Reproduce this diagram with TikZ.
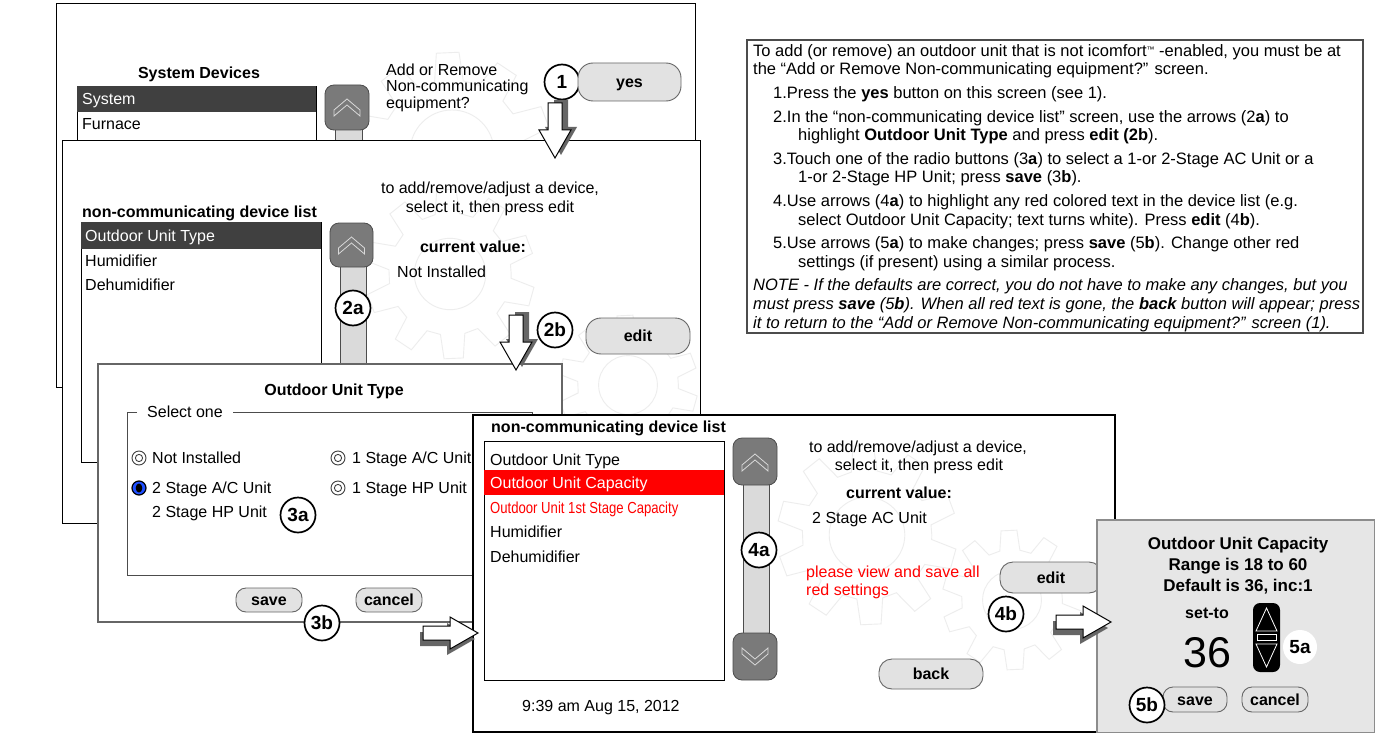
\documentclass[tikz,border=0pt]{standalone}
\usepackage{fontspec}
\setmainfont{Liberation Sans}
\usepackage{tikz}
\tikzset{>=latex}
\usetikzlibrary{calc}
\definecolor{rowdark}{HTML}{404040}
\definecolor{scrollgray}{HTML}{7A7A7A}
\definecolor{trackgray}{HTML}{DADADA}
\definecolor{btngray}{HTML}{E2E2E2}
\definecolor{alertred}{HTML}{FF0000}
\definecolor{popupgray}{HTML}{E6E6E6}
\definecolor{radioblue}{HTML}{1F4FFF}

\tikzset{
  screen/.style={draw=black, fill=white, line width=0.9pt},
  gearline/.style={draw=black!7, line width=0.9pt},
  txt/.style={inner sep=0pt, text height=11.5pt, text depth=0pt, font=\fontsize{16}{16}\selectfont},
  entry/.style={txt, anchor=west},
  heading/.style={txt, font=\bfseries\fontsize{16}{16}\selectfont},
  btn/.style={draw=black!60, fill=btngray, line width=0.9pt, rounded corners=13pt, inner sep=0pt,
    text height=11.5pt, text depth=0pt, font=\bfseries\fontsize{16}{16}\selectfont},
  tag/.style={circle, draw=black, line width=1.7pt, fill=white, minimum size=35pt, inner sep=0pt,
    font=\bfseries\fontsize{19}{19}\selectfont},
  scrollbtn/.style={draw=black!70, fill=scrollgray, rounded corners=9pt, line width=0.8pt},
  track/.style={draw=black!70, fill=trackgray, line width=0.8pt},
  chevron/.pic={\draw[white!70!gray, line width=0.8pt] (-13,3) -- (0,-8) -- (13,3) -- (13,9) -- (0,-2) -- (-13,9) -- cycle;},
  gear/.pic={
    \draw[gearline] (0:0.72) \foreach \a in {0,36,...,324} { -- (\a+4:0.72) -- (\a+9:1) -- (\a+22:1) -- (\a+27:0.72) } -- cycle;
    \draw[gearline] (0,0) circle (0.42);
  },
}

\newcommand{\radiobtn}[2]{\draw[black!75, line width=0.9pt] (#1,#2) circle (7) (#1,#2) circle (3.6);}
\newcommand{\radioon}[2]{\draw[black, line width=1.2pt, fill=radioblue] (#1,#2) circle (7); \fill[black] (#1,#2) ellipse (3.3 and 4.5);}
\newcommand{\bigarrow}[3]{%
  \begin{scope}[shift={(#1)}, rotate=#2]
    \fill[black!60, shift={(#3,-3)}] (-7,0) -- (7,0) -- (7,27) -- (16,27) -- (0,55) -- (-16,27) -- (-7,27) -- cycle;
    \draw[fill=white, line width=1pt] (-7,0) -- (7,0) -- (7,27) -- (16,27) -- (0,55) -- (-16,27) -- (-7,27) -- cycle;
  \end{scope}}

\begin{document}
\begin{tikzpicture}[x=1pt, y=-1pt]
  \useasboundingbox (0,0) rectangle (1375,733);

  \draw[screen] (56,3) rectangle (695,387);
  \begin{scope}
    \clip (56,3) rectangle (695,387);
    \pic[scale=100] at (452,152) {gear};
  \end{scope}
  \node[heading] (sysdev) at (199,73) {System Devices};
  \draw[line width=0.9pt] (77,86) rectangle (316,200);
  \fill[rowdark] (77,86) rectangle (316,112);
  \node[entry, text=white] (sysrow) at (82,99) {System};
  \node[entry] (furnrow) at (82,124) {Furnace};
  \draw[track] (335,128) rectangle (362,200);
  \draw[scrollbtn] (325,85) rectangle (369,130);
  \pic at (347,107) {chevron};
  \node[anchor=base west, align=left, inner sep=0pt, font=\fontsize{16}{16.5}\selectfont] (ask) at (386,108.5)
    {Add or Remove\\Non-communicating\\equipment?};
  \node[tag] (one) at (562,82) {1};
  \node[btn, minimum width=103pt, minimum height=38pt, rounded corners=15pt] (yes) at (629.5,82) {yes};

  \draw[screen] (62,140) rectangle (700,523);
  \begin{scope}
    \clip (62,140) rectangle (700,523);
    \pic[scale=85] at (450,274) {gear};
    \pic[scale=70] at (628,385) {gear};
  \end{scope}
  \node[txt] (hint2a) at (490,188) {to add/remove/adjust a device,};
  \node[txt] (hint2b) at (490,207) {select it, then press edit};
  \node[heading, anchor=west] (list2) at (82,212) {non-communicating device list};
  \draw[line width=0.9pt] (81,222) rectangle (321,462);
  \fill[rowdark] (81,222) rectangle (321,249);
  \node[entry, text=white] (out2) at (85,236) {Outdoor Unit Type};
  \node[entry] (hum2) at (85,261) {Humidifier};
  \node[entry] (dehum2) at (85,285) {Dehumidifier};
  \draw[track] (340,265) rectangle (366,420);
  \draw[scrollbtn] (330,223) rectangle (373,267);
  \pic at (351.5,245) {chevron};
  \node[heading] (cur2) at (473,247) {current value:};
  \node[entry] (val2) at (397,272) {Not Installed};
  \node[tag] (twoa) at (353,308) {2a};
  \node[tag] (twob) at (555,330) {2b};
  \node[btn, minimum width=104pt, minimum height=36pt, rounded corners=15pt] (edit2) at (638,336) {edit};

  \draw[screen, draw=black!60, line width=1.2pt] (98,364) rectangle (562,622);
  \node[heading] (typehead) at (334,390) {Outdoor Unit Type};
  \draw[black!70, line width=0.9pt] (137,412) -- (127,412) -- (127,575) -- (532,575) -- (532,412) -- (233,412);
  \node[entry] (pick) at (147,412) {Select one};
  \radiobtn{139}{458}
  \node[entry] (optnone) at (152,458) {Not Installed};
  \radiobtn{338}{458}
  \node[entry] (optacone) at (352,458) {1 Stage A/C Unit};
  \radioon{139}{488}
  \node[entry] (optactwo) at (152,488) {2 Stage A/C Unit};
  \radiobtn{338}{488}
  \node[entry] (opthpone) at (352,488) {1 Stage HP Unit};
  \node[entry] (opthptwo) at (152,512) {2 Stage HP Unit};
  \node[tag] (threea) at (298,515) {3a};
  \node[btn, minimum width=66pt, minimum height=24pt, rounded corners=10pt] (save3) at (269,600) {save};
  \node[btn, minimum width=66pt, minimum height=24pt, rounded corners=10pt] (cancel3) at (389,600) {cancel};
  \node[tag] (threeb) at (322,623) {3b};

  \draw[screen, line width=1.2pt] (473,415) rectangle (1115,732);
  \begin{scope}
    \clip (473,415) rectangle (1115,732);
    \pic[scale=90] at (867,535) {gear};
    \pic[scale=70] at (1012,600) {gear};
  \end{scope}
  \node[heading, anchor=west] (list4) at (491,427) {non-communicating device list};
  \draw[line width=0.9pt] (484,441) rectangle (724,680);
  \fill[alertred] (484,470) rectangle (724,495);
  \node[entry] (out4) at (490,460) {Outdoor Unit Type};
  \node[entry, text=white] (cap4) at (490,483) {Outdoor Unit Capacity};
  \node[entry, text=alertred] (stage4) at (490,508) {\scalebox{0.82}[1]{Outdoor Unit 1st Stage Capacity}};
  \node[entry] (hum4) at (490,532) {Humidifier};
  \node[entry] (dehum4) at (490,557) {Dehumidifier};
  \draw[track] (743,484) rectangle (769,634);
  \draw[scrollbtn] (733,438) rectangle (777,485);
  \draw[scrollbtn] (733,633) rectangle (777,680);
  \pic at (755,462) {chevron};
  \pic[yscale=-1] at (755,657) {chevron};
  \node[tag] (foura) at (759,550) {4a};
  \node[txt] (hint4a) at (918,447) {to add/remove/adjust a device,};
  \node[txt] (hint4b) at (919,465) {select it, then press edit};
  \node[heading] (cur4) at (899,493) {current value:};
  \node[entry] (val4) at (812,518) {2 Stage AC Unit};
  \node[anchor=base west, align=left, inner sep=0pt, text=alertred, font=\fontsize{16}{18}\selectfont] (redmsg) at (806,595)
    {please view and save all\\red settings};
  \node[btn, minimum width=102pt, minimum height=31pt] (edit4) at (1051,577.5) {edit};
  \node[tag] (fourb) at (1006,614) {4b};
  \node[btn, minimum width=104pt, minimum height=30pt] (back4) at (931,674) {back};
  \node[entry] (clock) at (522,706) {9:39 am Aug 15, 2012};

  \draw[draw=black!45, fill=popupgray, line width=1.2pt] (1097,520) rectangle (1374.4,732.4);
  \node[anchor=base, align=center, inner sep=0pt, font=\bfseries\fontsize{17}{21}\selectfont] (caphead) at (1238,591)
    {Outdoor Unit Capacity\\Range is 18 to 60\\Default is 36, inc:1};
  \node[heading] (setto) at (1207,613) {set-to};
  \node[inner sep=0pt, text height=30pt, text depth=0pt, font=\fontsize{43}{43}\selectfont] (setval) at (1207,652) {36};
  \fill[black, rounded corners=7pt] (1253,603) rectangle (1280,672);
  \draw[white, line width=0.8pt] (1256,631) -- (1266.5,608) -- (1277,631) -- cycle;
  \draw[white, line width=0.8pt] (1257,634) rectangle (1276,640);
  \draw[white, line width=0.8pt] (1256,644) -- (1277,644) -- (1266.5,667) -- cycle;
  \node[circle, fill=white, minimum size=34pt, inner sep=0pt, font=\bfseries\fontsize{19}{19}\selectfont] (fivea) at (1300,647) {5a};
  \node[btn, minimum width=64pt, minimum height=25pt, rounded corners=10pt] (save5) at (1195,699.5) {save};
  \node[btn, minimum width=66pt, minimum height=25pt, rounded corners=10pt] (cancel5) at (1275,699.5) {cancel};
  \node[tag] (fiveb) at (1147,705) {5b};

  \draw[black!70, line width=1.1pt] (747,40) rectangle (1363,333);
  \node[anchor=base west, align=left, inner sep=0pt, font=\fontsize{16.5}{18.6}\selectfont] (notes) at (753,328) {%
    To add (or remove) an outdoor unit that is not icomfort\raisebox{4pt}{\fontsize{8}{8}\selectfont ™} -enabled, you must be at\\
    the “Add or Remove Non-communicating equipment?” screen.\\[5pt]
    \hspace*{20pt}1.Press the \textbf{yes} button on this screen (see 1).\\[5pt]
    \hspace*{20pt}2.In the “non-communicating device list” screen, use the arrows (2\textbf{a}) to\\
    \hspace*{45pt}highlight \textbf{Outdoor Unit Type} and press \textbf{edit (2b}).\\[5pt]
    \hspace*{20pt}3.Touch one of the radio buttons (3\textbf{a}) to select a 1-or 2-Stage AC Unit or a\\
    \hspace*{45pt}1-or 2-Stage HP Unit; press \textbf{save} (3\textbf{b}).\\[5pt]
    \hspace*{20pt}4.Use arrows (4\textbf{a}) to highlight any red colored text in the device list (e.g.\\
    \hspace*{45pt}select Outdoor Unit Capacity; text turns white). Press \textbf{edit} (4\textbf{b}).\\[5pt]
    \hspace*{20pt}5.Use arrows (5\textbf{a}) to make changes; press \textbf{save} (5\textbf{b}). Change other red\\
    \hspace*{45pt}settings (if present) using a similar process.\\[5pt]
    \textit{NOTE - If the defaults are correct, you do not have to make any changes, but you}\\
    \textit{must press \textbf{save} (5\textbf{b}). When all red text is gone, the \textbf{back} button will appear; press}\\
    \textit{it to return to the “Add or Remove Non-communicating equipment?” screen (1).}};

  \coordinate (arrowone) at (555,103);
  \coordinate (arrowtwo) at (516,315);
  \coordinate (arrowthree) at (423,633);
  \coordinate (arrowfour) at (1056,622);
  \bigarrow{arrowone}{0}{6}
  \bigarrow{arrowtwo}{0}{6}
  \bigarrow{arrowthree}{90}{-6}
  \bigarrow{arrowfour}{90}{-6}
\end{tikzpicture}
\end{document}
